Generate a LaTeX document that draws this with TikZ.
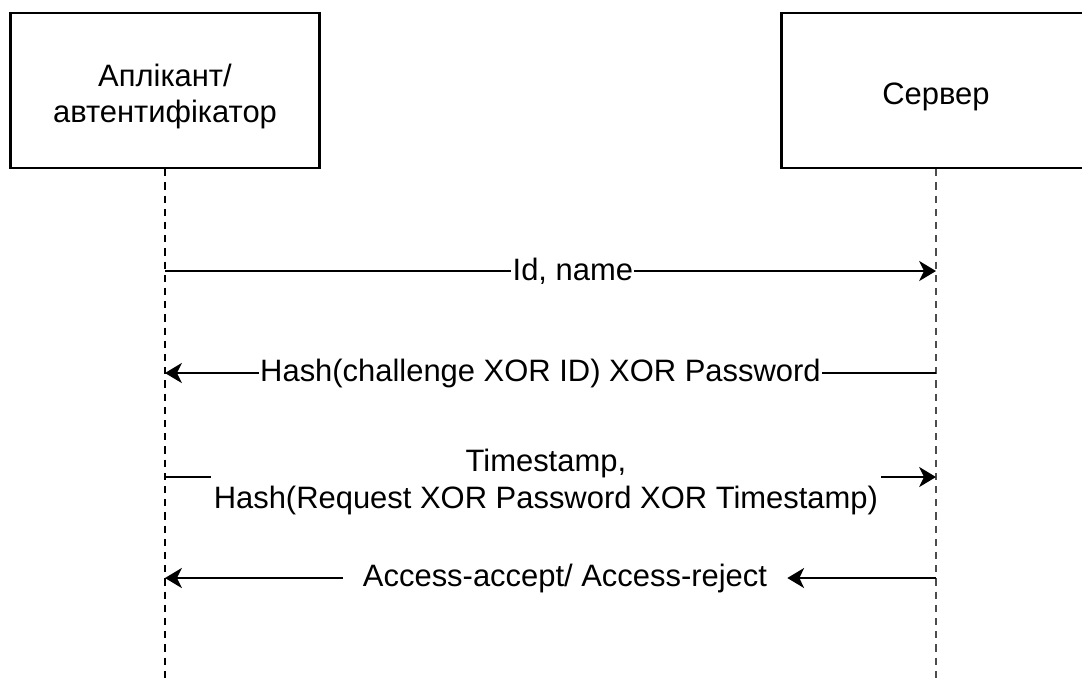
\documentclass[tikz,border=0pt]{standalone}
\usepackage{fontspec}
\setmainfont{Liberation Sans}
\usetikzlibrary{arrows.meta}

\begin{document}
\begin{tikzpicture}[x=0.025cm, y=-0.025cm,
  font=\fontsize{22}{26}\selectfont,
  actor/.style={draw, line width=1.6pt, minimum width=7.725cm, minimum height=3.875cm},
  lifeline/.style={line width=1.2pt, dash pattern=on 0.18cm off 0.15cm},
  msg/.style={line width=1.6pt, -{Stealth[length=0.42cm, width=0.5cm, inset=0.12cm]}},
  lbl/.style={fill=white, inner xsep=1pt, inner ysep=0pt, align=center}]
  \useasboundingbox (0,0) rectangle (1082,679);
  \clip (0,0) rectangle (1082,679);

  % Participants
  \node[actor, label={[align=center, yshift=-0.15cm]center:Аплікант/\\автентифікатор}] (app) at (165,90.5) {};
  \node[actor, label={[yshift=-0.15cm]center:Сервер}] (srv) at (936,90.5) {};

  % Lifelines
  \coordinate (appEnd) at (165,679);
  \coordinate (srvEnd) at (936,679);
  \draw[lifeline] (app.south) -- (appEnd);
  \draw[lifeline, black!70] (srv.south) -- (srvEnd);

  % Message rows
  \foreach \i/\y in {1/271,2/373,3/477,4/578} {
    \coordinate (a\i) at (165,\y);
    \coordinate (s\i) at (936,\y);
  }

  % Messages
  \draw[msg] (a1) -- (s1) node[lbl, pos=0.529] {Id, name};
  \draw[msg] (s2) -- (a2) node[lbl, pos=0.513] {Hash(challenge XOR ID) XOR Password};
  \draw[msg] (a3) -- (s3) node[lbl, pos=0.494, yshift=-0.12cm, inner xsep=2pt] {Timestamp,\\Hash(Request XOR Password XOR Timestamp)};

  % Reply with separated label
  \node[lbl, inner xsep=0.5cm] (acc) at (565,578) {Access-accept/ Access-reject};
  \draw[msg] (s4) -- (acc);
  \draw[msg] (acc) -- (a4);
\end{tikzpicture}
\end{document}
